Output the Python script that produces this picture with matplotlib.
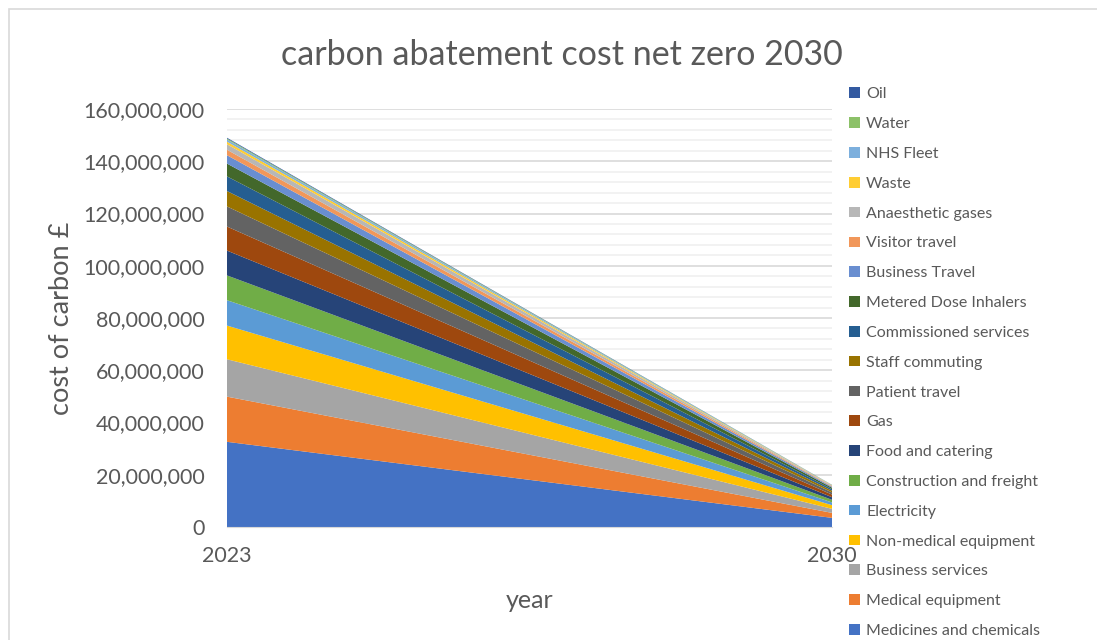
import numpy as np
import matplotlib
matplotlib.use("Agg")
import matplotlib.pyplot as plt
from matplotlib.patches import Rectangle
from matplotlib.ticker import FuncFormatter, MultipleLocator

plt.rcParams['font.family'] = ['Lato', 'DejaVu Sans']

# data, bottom of stack first
years = ["2023", "2030"]
categories = [
    "Medicines and chemicals", "Medical equipment", "Business services",
    "Non-medical equipment", "Electricity", "Construction and freight",
    "Food and catering", "Gas", "Patient travel", "Staff commuting",
    "Commissioned services", "Metered Dose Inhalers", "Business Travel",
    "Visitor travel", "Anaesthetic gases", "Waste", "NHS Fleet", "Water", "Oil",
]
cost_2023 = [32.6e6, 17.3e6, 14.3e6, 12.9e6, 9.7e6, 9.5e6, 9.5e6, 9.2e6, 7.7e6, 5.9e6,
             5.6e6, 4.9e6, 3.2e6, 2.1e6, 2.1e6, 1.0e6, 0.8e6, 0.4e6, 0.3e6]
cost_2030 = [3.5e6, 1.9e6, 1.55e6, 1.4e6, 1.05e6, 1.0e6, 1.0e6, 1.0e6, 0.85e6, 0.65e6,
             0.6e6, 0.55e6, 0.35e6, 0.23e6, 0.23e6, 0.11e6, 0.09e6, 0.05e6, 0.03e6]
colors = ["#4472C4", "#ED7D31", "#A5A5A5", "#FFC000", "#5B9BD5", "#70AD47",
          "#264478", "#9E480E", "#636363", "#997300", "#255E91", "#43682B",
          "#698ED0", "#F1975A", "#B7B7B7", "#FFCD33", "#7CAFDD", "#8CC168", "#335AA1"]

txt = "#595959"

fig = plt.figure(figsize=(10.97, 6.4), dpi=100)
ax = fig.add_axes([227 / 1097, 1 - 527 / 640, (832 - 227) / 1097, (527 - 109) / 640])

# chart border (cut off at right and bottom like the screenshot)
fig.patches.append(Rectangle((9 / 1097, -0.1), 1.2, 1 - 9 / 640 + 0.1,
                             transform=fig.transFigure, fill=False,
                             edgecolor="#d9d9d9", linewidth=1.2))

x = np.arange(len(years))
vals = np.array([cost_2023, cost_2030]).T
polys = ax.stackplot(x, vals, colors=colors, labels=categories, linewidth=0)

ax.set_xlim(0, 1)
ax.set_ylim(0, 160e6)
ax.set_xticks(x)
ax.set_xticklabels(years)
ax.yaxis.set_major_locator(MultipleLocator(20e6))
ax.yaxis.set_minor_locator(MultipleLocator(4e6))
ax.yaxis.set_major_formatter(FuncFormatter(lambda v, p: f"{int(v):,}"))
ax.grid(axis="y", which="major", color="#d9d9d9", linewidth=1.2)
ax.grid(axis="y", which="minor", color="#f0f0f0", linewidth=1.2)
ax.set_axisbelow(True)
for s in ["top", "right", "left"]:
    ax.spines[s].set_visible(False)
ax.spines["bottom"].set_color("#d9d9d9")
ax.tick_params(axis="both", which="both", length=0, labelsize=15.5, labelcolor=txt)
ax.tick_params(axis="x", pad=14)
ax.tick_params(axis="y", pad=16)

fig.text(562 / 1097, 1 - 55 / 640, "carbon abatement cost net zero 2030",
         fontsize=24.5, color=txt, ha="center", va="center")
ax.set_xlabel("year", fontsize=18, color=txt, labelpad=16)
ax.set_ylabel("cost of carbon £", fontsize=19.5, color=txt, va="center")
ax.yaxis.set_label_coords((62 - 227) / 605, 0.5)

handles, labels = ax.get_legend_handles_labels()
leg = fig.legend(handles[::-1], labels[::-1], loc="upper left",
                 bbox_to_anchor=(843 / 1097, 1 - 81 / 640), frameon=False,
                 fontsize=11.5, labelcolor=txt, handlelength=0.65, handleheight=0.65,
                 handletextpad=0.4, labelspacing=0.99, borderaxespad=0)

plt.savefig("out.png", dpi=100)
